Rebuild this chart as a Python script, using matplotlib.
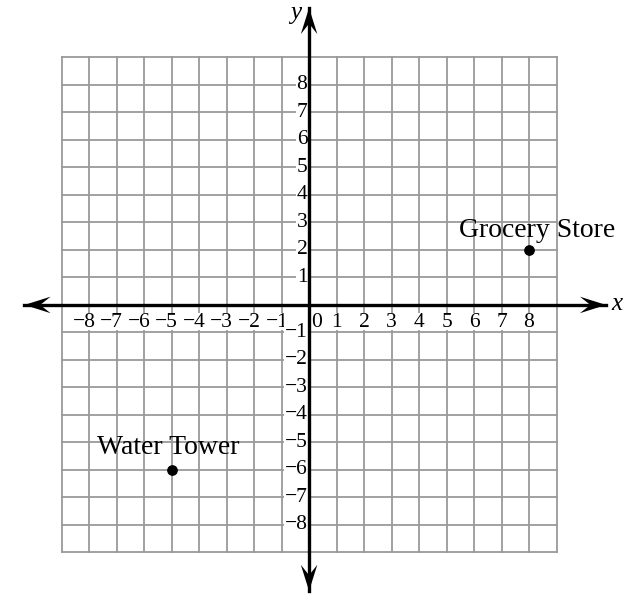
import numpy as np
import matplotlib.pyplot as plt
from matplotlib.patches import Rectangle

# grid extent and tick labels
grid_min, grid_max = -9, 9
x_ticks = [-8, -7, -6, -5, -4, -3, -2, -1, 1, 2, 3, 4, 5, 6, 7, 8]
y_ticks = [-8, -7, -6, -5, -4, -3, -2, -1, 1, 2, 3, 4, 5, 6, 7, 8]

# labelled places
place_names = ['Water Tower', 'Grocery Store']
place_x = [-5, 8]
place_y = [-6, 2]

plt.rcParams['font.family'] = ['Liberation Serif', 'DejaVu Serif']

fig = plt.figure(figsize=(6.33, 6.03), dpi=100)
ax = fig.add_axes([0, 0, 1, 1])
ax.set_xlim(-11.24, 11.78)
ax.set_ylim(-10.84, 11.09)
ax.axis('off')

# grid
grid_color = '#9a9a9a'
for k in range(grid_min, grid_max + 1):
    ax.plot([k, k], [grid_min, grid_max], color=grid_color, lw=1.3, zorder=1)
    ax.plot([grid_min, grid_max], [k, k], color=grid_color, lw=1.3, zorder=1)


def stealth(tip, direction, length=0.95, width=0.3, notch=0.6):
    # arrowhead polygon with a concave back
    d = np.array(direction, dtype=float)
    n = np.array([-d[1], d[0]])
    tip = np.array(tip, dtype=float)
    pts = [tip, tip - length * d + width * n, tip - notch * length * d, tip - length * d - width * n]
    pts = np.array(pts)
    ax.fill(pts[:, 0], pts[:, 1], color='black', lw=0, zorder=5)


x_end = [-10.35, 10.8]
y_end = [-10.4, 10.8]
ax.plot(x_end, [0, 0], color='black', lw=2.4, zorder=4)
ax.plot([0, 0], y_end, color='black', lw=2.4, zorder=4)
stealth((x_end[1], 0), (1, 0))
stealth((x_end[0], 0), (-1, 0))
stealth((0, y_end[1]), (0, 1))
stealth((0, y_end[0]), (0, -1))
ax.text(11.0, 0.05, 'x', style='italic', fontsize=18, ha='left', va='center')
ax.text(-0.3, 10.6, 'y', style='italic', fontsize=18, ha='right', va='center')

tick_fs = 15.5
label_y = -0.64
for t in x_ticks:
    label = str(t).replace('-', '\u2212')
    if t < 0:
        ax.text(t + 0.24, label_y, label, fontsize=tick_fs, ha='right', va='center', zorder=3)
        ax.add_patch(Rectangle((t - 0.64, -0.92), 0.9, 0.62, facecolor='white', edgecolor='none', zorder=2))
    else:
        ax.text(t, label_y, label, fontsize=tick_fs, ha='center', va='center', zorder=3)
        ax.add_patch(Rectangle((t - 0.25, -0.92), 0.5, 0.62, facecolor='white', edgecolor='none', zorder=2))
ax.text(0.27, label_y, '0', fontsize=tick_fs, ha='center', va='center', zorder=3)

box = dict(facecolor='white', edgecolor='none', pad=0.3)
for t in y_ticks:
    label = str(t).replace('-', '\u2212')
    ax.text(-0.06, t, label, fontsize=tick_fs, ha='right', va='center', bbox=box, zorder=3)

# points
ax.scatter(place_x, place_y, s=45, color='black', zorder=5)
ax.text(place_x[0] - 0.13, place_y[0] + 0.8, place_names[0], fontsize=20, ha='center', va='center', zorder=3)
ax.text(place_x[1] + 0.3, place_y[1] + 0.7, place_names[1], fontsize=20, ha='center', va='center', zorder=3)

fig.savefig('out.png', dpi=100)
